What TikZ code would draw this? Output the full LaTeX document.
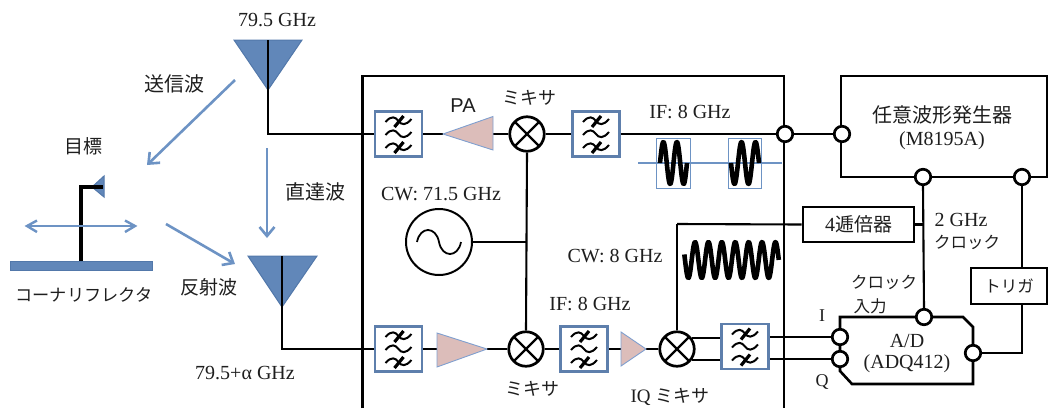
\documentclass[tikz,border=0pt]{standalone}
\usepackage{fontspec}
\setmainfont{Liberation Serif}
\setsansfont{Liberation Sans}
\newfontfamily\jp{Noto Sans CJK JP}
\usetikzlibrary{arrows.meta}
\definecolor{antblue}{HTML}{6187B9}
\definecolor{antedge}{HTML}{5278AA}
\definecolor{arrowblue}{HTML}{6D93C4}
\definecolor{filtblue}{HTML}{5E7FAC}
\definecolor{ampfill}{HTML}{DCBDBA}
\definecolor{ampedge}{HTML}{7F9FCF}
\definecolor{txt}{HTML}{1E1E1E}
\tikzset{
 x=1pt,y=-1pt,
 wire/.style={draw=black,line width=2.1pt},
 thickbox/.style={draw=black,line width=2.6pt,fill=white},
 port/.style={circle,draw=black,line width=2.7pt,fill=white,minimum size=15.5pt,inner sep=0pt},
 mixerbox/.style={circle,draw=black,line width=2.7pt,fill=white,minimum size=34.5pt,inner sep=0pt},
 filterbox/.style={rectangle,draw=filtblue,line width=2.6pt,fill=white,minimum width=47pt,minimum height=45pt,inner sep=0pt},
 amp/.style={draw=ampedge,line width=0.9pt,fill=ampfill},
 antenna/.style={draw=antedge,line width=1pt,fill=antblue},
 beam/.style={draw=arrowblue,line width=2.6pt,-{Straight Barb[length=9pt,width=15pt,line width=2.6pt]}},
 lab/.style={font=\fontsize{20}{22}\selectfont,text=txt,inner sep=0pt},
 jlab/.style={font=\jp\fontsize{19}{21}\selectfont,text=txt,inner sep=0pt},
 biglab/.style={font=\jp\fontsize{20}{22}\selectfont,text=txt,inner sep=0pt},
 smalljlab/.style={font=\jp\fontsize{16.5}{19}\selectfont,text=txt,inner sep=0pt},
 mixlab/.style={font=\jp\fontsize{18}{20}\selectfont,text=txt,inner sep=0pt},
 pulsebox/.style={draw=arrowblue,line width=0.9pt,fill=white},
 wave/.style={draw=black,line width=4.6pt,line join=round},
}
\newcommand{\filtericon}[1]{%
 \begin{scope}[shift={(#1)}]
  \foreach \dy in {-13,0,13}{
   \draw[line width=2pt] (-13,\dy+1) .. controls (-7,\dy-6) and (-3,\dy-4) .. (0,\dy) .. controls (3,\dy+4) and (7,\dy+5) .. (13,\dy-2);
  }
  \foreach \dy in {-13,13}{
   \draw[line width=3.2pt] (-4,\dy+6) -- (5,\dy-5);
  }
 \end{scope}}
\newcommand{\mixercross}[1]{%
 \draw[line width=2.2pt] ([shift={(45:17pt)}]#1.center) -- ([shift={(225:17pt)}]#1.center)
   ([shift={(135:17pt)}]#1.center) -- ([shift={(315:17pt)}]#1.center);}
\begin{document}
\begin{tikzpicture}
\useasboundingbox (0,0) rectangle (1053,408);
% frames
\draw[draw=black,line width=2.6pt] (362.5,408) -- (362.5,76) -- (784,76) -- (784,408);
\draw[thickbox] (841,76) rectangle (1047,177);
\draw[thickbox] (840,317) -- (963,317) -- (973,327) -- (973,384) -- (852,384) -- (840,371) -- cycle;
% coordinates
\coordinate (ant1top) at (268,40);
\coordinate (ant1corner) at (268,134);
\coordinate (ant2top) at (282,256);
\coordinate (ant2corner) at (282,349);
% antennas
\draw[antenna] (234,40) -- (302,40) -- (268,90) -- cycle;
\draw[antenna] (248,256) -- (317,256) -- (282,307) -- cycle;
% nodes
\node[filterbox] (f1) at (398.5,134) {};
\node[filterbox] (f2) at (596,134) {};
\node[filterbox] (f3) at (398.5,349) {};
\node[filterbox] (f4) at (584,349) {};
\node[filterbox] (f5) at (745,346.5) {};
\node[mixerbox] (m1) at (527,134) {};
\node[mixerbox] (m2) at (526,349) {};
\node[mixerbox] (m3) at (677,349) {};
\node[circle,draw=black,line width=2pt,fill=white,minimum size=66pt,inner sep=0pt] (cw) at (439,242) {};
\coordinate (amp1L) at (443,134);
\coordinate (amp1R) at (493,134);
\coordinate (amp2L) at (437,349);
\coordinate (amp2R) at (487,349);
\coordinate (amp3L) at (621,349);
\coordinate (amp3R) at (646,349);
\coordinate (tee) at (526.5,242);
\coordinate (lotee) at (677,224);
\node[port] (p1) at (785,134) {};
\node[port] (p2) at (842,134) {};
\node[port] (p3) at (923,177) {};
\node[port] (p4) at (1022,177) {};
\node[port] (p5) at (924,317) {};
\node[port] (p6) at (840,337) {};
\node[port] (p7) at (840,359) {};
\node[port] (p8) at (973,353) {};
% connectors
\draw[wire] (ant1top) -- (ant1corner) -- (f1.west);
\draw[wire] (ant2top) -- (ant2corner) -- (f3.west);
\draw[wire] (f1.east) -- (amp1L);
\draw[wire] (amp1R) -- (m1.west);
\draw[wire] (m1.east) -- (f2.west);
\draw[wire] (f2.east) -- (p1.west);
\draw[wire] (p1.east) -- (p2.west);
\draw[wire] (f3.east) -- (amp2L);
\draw[wire] (amp2R) -- (m2.west);
\draw[wire] (m2.east) -- (f4.west);
\draw[wire] (f4.east) -- (amp3L);
\draw[wire] (amp3R) -- (m3.west);
\draw[wire] (m1.south) -- (m2.north);
\draw[wire] (cw.east) -- (tee);
\draw[wire] (m3.north) -- (lotee);
\node[thickbox,rectangle,minimum width=111pt,minimum height=35pt,inner sep=0pt,text=txt] (mult) at (858.5,224.5) {\fontsize{20}{22}\selectfont 4{\jp\fontsize{19}{21}\selectfont 逓倍器}};
\draw[wire] (lotee) -- (mult.west);
\draw[wire] (mult.east) -- (mult.east -| p3.south);
\draw[wire] (p3.south) -- (p5.north);
\node[rectangle,draw=black,line width=2.1pt,fill=white,minimum width=76pt,minimum height=36pt,inner sep=0pt,smalljlab] (trig) at (1009,286) {トリガ};
\draw[wire] (p4.south) -- (p4.south |- trig.north);
\draw[wire] (p4.south |- trig.south) -- (p4.south |- p8.east) -- (p8.east);
\draw[wire] (m3.35) -- (m3.35 -| f5.west);
\draw[wire] (m3.325) -- (m3.325 -| f5.west);
\draw[wire] (f5.east |- p6.west) -- (p6.west);
\draw[wire] (f5.east |- p7.west) -- (p7.west);
% amps
\draw[amp] (amp1L) -- (amp1R |- 0,116.5) -- (amp1R |- 0,150) -- cycle;
\draw[amp] (amp2R) -- (amp2L |- 0,333) -- (amp2L |- 0,367) -- cycle;
\draw[amp] (amp3R) -- (amp3L |- 0,332) -- (amp3L |- 0,366) -- cycle;
% filter icons, mixer crosses
\filtericon{f1}\filtericon{f2}\filtericon{f3}\filtericon{f4}\filtericon{f5}
\mixercross{m1}\mixercross{m2}\mixercross{m3}
% CW symbol
\draw[line width=1.8pt] (417,242) .. controls (420,226) and (436,226) .. (439,242) .. controls (442,258) and (458,258) .. (461,242);
% pulses
\draw[pulsebox] (656,138) rectangle (690,188);
\draw[pulsebox] (728,138) rectangle (761,188);
\draw[draw=arrowblue,line width=2.4pt] (638,163) -- (782,163);
\draw[wave] plot[domain=0:2,samples=80,smooth] ({660+\x*13.5},{163-21*sin(\x*360)});
\draw[wave] plot[domain=0:2,samples=80,smooth] ({731+\x*14},{163+21*sin(\x*360)});
% CW 8 GHz wave
\draw[wave] plot[domain=-0.55:6.5,samples=240,smooth] ({691.7+\x*13.4},{260-18*sin(\x*360)});
% target
\draw[fill=antblue,draw=antedge,line width=1pt] (104,176) -- (104,197) -- (92,187) -- cycle;
\draw[line width=3.6pt,line join=miter] (81,261) -- (81,187) -- (103,187);
\draw[draw=antedge,fill=antblue,line width=1pt] (10,261) rectangle (152,270);
\coordinate (dbl1) at (27,226); \coordinate (dbl2) at (135,226);
\draw[draw=arrowblue,line width=1.2pt] (dbl1) -- (dbl2);
\draw[draw=arrowblue,line width=2.4pt] (37,220.5) -- (dbl1) -- (37,232) (125,220.5) -- (dbl2) -- (125,232);
% beams
\coordinate (b1s) at (235,80); \coordinate (b1e) at (147,165);
\coordinate (b2s) at (267,148); \coordinate (b2e) at (267,238);
\coordinate (b3s) at (166,224); \coordinate (b3e) at (235,264);
\draw[beam] (b1s) -- (b1e);
\draw[beam] (b2s) -- (b2e);
\draw[beam] (b3s) -- (b3e);
% labels
\node[lab] (t1) at (277,20) {79.5 GHz};
\node[lab] (t2) at (245,373) {79.5+α GHz};
\node[biglab] (t3) at (174,84) {送信波};
\node[jlab] (t4) at (83,146) {目標};
\node[jlab,font=\jp\fontsize{17.2}{19}\selectfont] (t5) at (84,295) {コーナリフレクタ};
\node[jlab] (t6) at (209,287) {反射波};
\node[biglab] (t7) at (315,192) {直達波};
\node[font=\sffamily\fontsize{20}{22}\selectfont,text=txt,inner sep=0pt] (t8) at (463,106) {PA};
\node[mixlab] (t9) at (529,98) {ミキサ};
\node[lab] (t10) at (690,112) {IF: 8 GHz};
\node[lab] (t11) at (441,194) {CW: 71.5 GHz};
\node[lab] (t12) at (615,256) {CW: 8 GHz};
\node[lab] (t13) at (590,304) {IF: 8 GHz};
\node[mixlab] (t14) at (532,389) {ミキサ};
\node[inner sep=0pt,text=txt] (t15) at (670,397) {\fontsize{19}{21}\selectfont IQ {\jp\fontsize{18}{20}\selectfont ミキサ}};
\node[lab] (t16) at (961,220) {2 GHz};
\node[smalljlab] (t17) at (967,242) {クロック};
\node[smalljlab] (t18) at (884,282) {クロック};
\node[smalljlab] (t19) at (870,306) {入力};
\node[lab,font=\fontsize{18}{20}\selectfont] (t20) at (822,316) {I};
\node[lab,font=\fontsize{18}{20}\selectfont] (t21) at (822,382) {Q};
\node[lab] (t22) at (907,341) {A/D};
\node[lab] (t23) at (907,364) {(ADQ412)};
\node[biglab] (t24) at (942,115) {任意波形発生器};
\node[lab] (t25) at (942,141) {(M8195A)};
\end{tikzpicture}
\end{document}
